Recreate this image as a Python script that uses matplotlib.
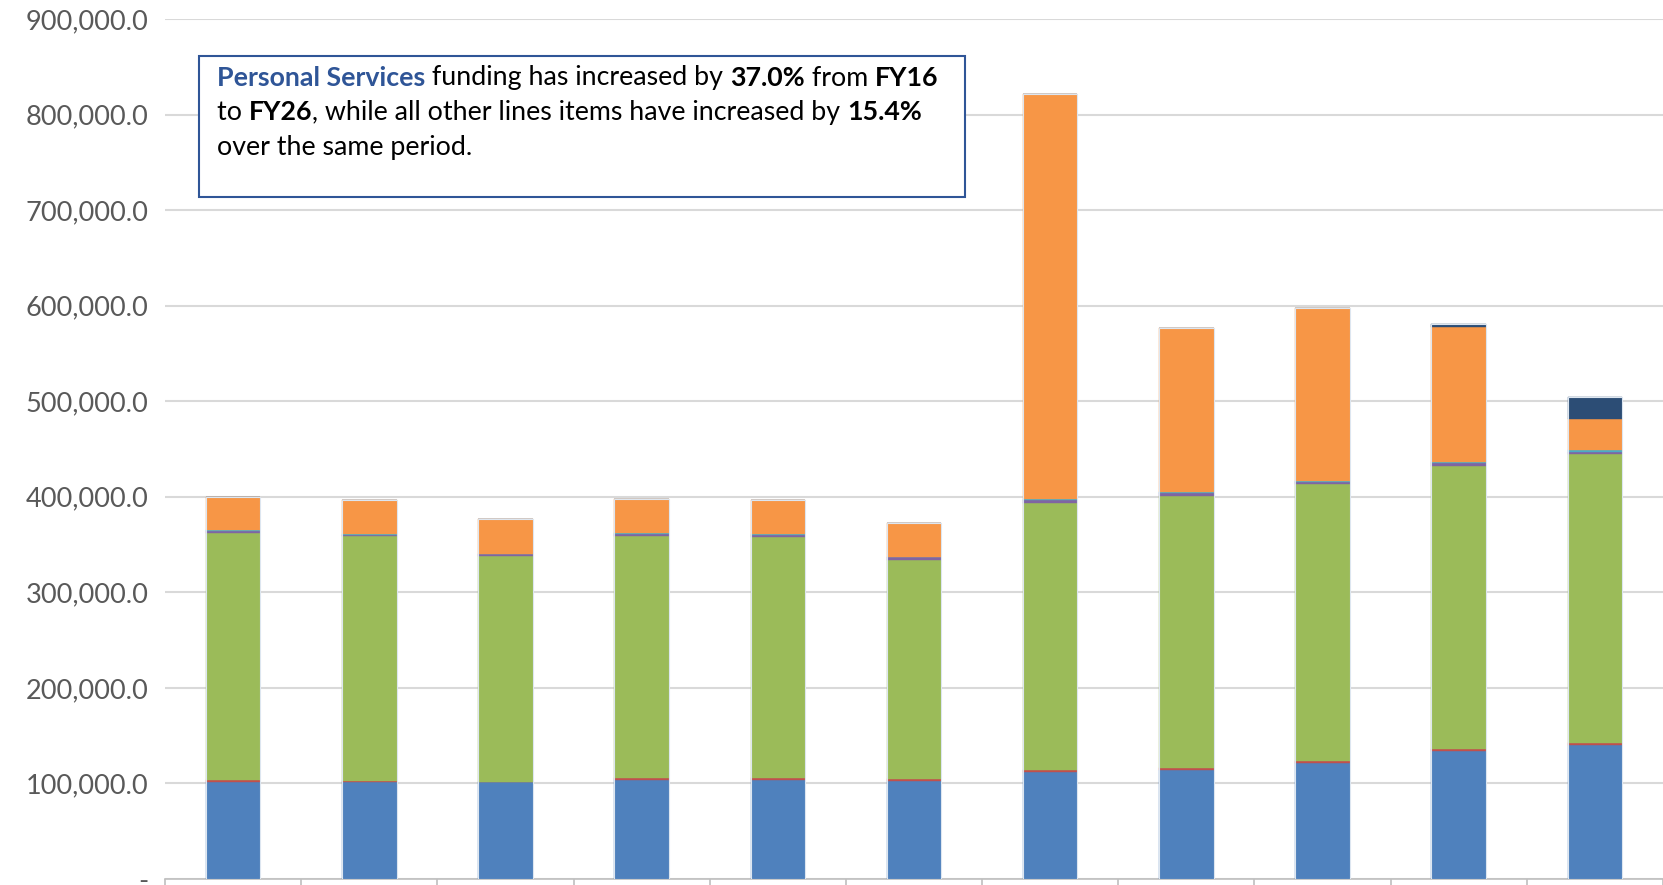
import matplotlib
matplotlib.use("Agg")
import matplotlib.pyplot as plt
import numpy as np
from matplotlib.ticker import FuncFormatter, MultipleLocator
from matplotlib.patches import Rectangle

categories = ["FY16", "FY17", "FY18", "FY19", "FY20", "FY21", "FY22", "FY23", "FY24", "FY25", "FY26"]
personal_services = [102000, 101000, 101000, 104000, 104000, 103000, 112000, 114000, 121000, 134000, 139800]
series_red = [2000, 1500, 1000, 2000, 1500, 1500, 2000, 2000, 2000, 2000, 2500]
series_green = [258000, 256000, 236000, 253000, 252000, 229500, 279000, 285000, 290000, 296000, 302000]
series_purple = [2500, 2000, 2000, 2500, 2500, 2500, 3500, 3000, 2500, 3000, 3000]
series_lightblue = [1000, 500, 500, 1000, 1000, 1000, 1000, 1000, 1000, 1500, 1500]
series_orange = [34000, 36000, 36000, 35000, 35500, 35500, 423500, 171700, 181000, 141500, 33000]
series_navy = [0, 0, 0, 0, 0, 0, 0, 0, 0, 3000, 22500]

series = [personal_services, series_red, series_green, series_purple,
          series_lightblue, series_orange, series_navy]
colors = ["#4F81BD", "#C0504D", "#9BBB59", "#8064A2", "#4BACC6", "#F79646", "#2C4D75"]

plt.rcParams['font.family'] = ['Lato', 'DejaVu Sans']

fig = plt.figure(figsize=(16.63, 8.85), dpi=100)
ax = fig.add_axes([165/1663, 6/885, 1 - 165/1663, 1 - 25/885])

x = np.arange(len(categories))
bottom = np.zeros(len(categories))
for vals, c in zip(series, colors):
    v = np.array(vals, dtype=float)
    ax.bar(x, v, width=0.4, bottom=bottom, color=c, edgecolor=c, linewidth=0.3, zorder=3)
    bottom += v
# faint outline of each whole bar
ax.bar(x, bottom, width=0.4, fill=False, edgecolor="#DDE6F0", linewidth=0.8, zorder=4)

ax.set_xlim(-0.5, len(categories) - 0.5)
ax.set_ylim(0, 900000)
ax.yaxis.set_major_locator(MultipleLocator(100000))
ax.yaxis.set_major_formatter(FuncFormatter(lambda v, p: "-" if v == 0 else f"{v:,.1f}"))
ax.grid(axis="y", color="#D9D9D9", linewidth=1.5, zorder=0)
ax.set_axisbelow(True)
for s in ["left", "right", "top"]:
    ax.spines[s].set_visible(False)
ax.spines["bottom"].set_color("#BFBFBF")
ax.spines["bottom"].set_linewidth(1.2)
ax.tick_params(axis="y", length=0, pad=12, labelsize=19.5, labelcolor="#595959")
ax.set_xticks(x)
ax.set_xticklabels([])
ax.tick_params(axis="x", which="major", length=0)
ax.set_xticks(np.arange(-0.5, len(categories) + 0.5, 1), minor=True)
ax.tick_params(axis="x", which="minor", length=8, color="#BFBFBF", width=1.2)

# annotation box
box_l, box_t, box_r, box_b = 199, 56, 965, 197
fig.patches.append(Rectangle((box_l/1663, 1 - box_b/885), (box_r - box_l)/1663, (box_b - box_t)/885,
                             transform=fig.transFigure, facecolor="white", edgecolor="#2F5597",
                             linewidth=1.5, zorder=5))

lines = [
    [("Personal Services", "bold", "#2F5597"), (" funding has increased by ", "normal", "black"),
     ("37.0%", "bold", "black"), (" from ", "normal", "black"), ("FY16", "bold", "black")],
    [("to ", "normal", "black"), ("FY26", "bold", "black"),
     (", while all other lines items have increased by ", "normal", "black"), ("15.4%", "bold", "black")],
    [("over the same period.", "normal", "black")],
]
fig.canvas.draw()
renderer = fig.canvas.get_renderer()
y0 = 78
for i, parts in enumerate(lines):
    xpix = 217
    ypix = y0 + i * 34.5
    for txt, wt, col in parts:
        t = fig.text(xpix/1663, 1 - ypix/885, txt, fontsize=19.3, fontweight=wt, color=col,
                     va="center", ha="left", zorder=6)
        bb = t.get_window_extent(renderer=renderer)
        xpix += bb.width

fig.savefig("out.png", dpi=100)
